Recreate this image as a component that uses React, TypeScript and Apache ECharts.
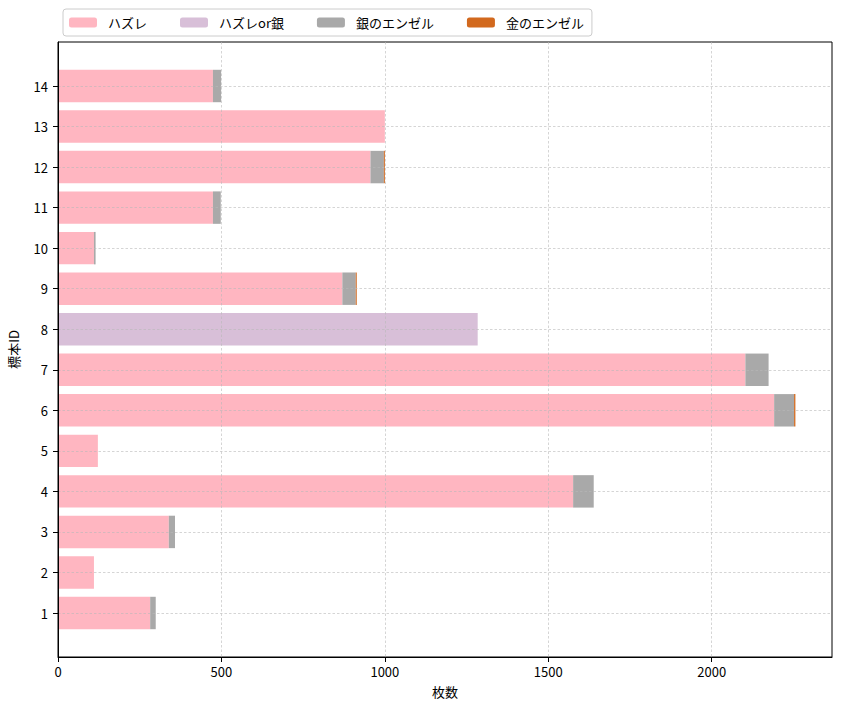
import React, { useEffect, useRef } from "react";
import * as echarts from "echarts";

const categories = ["1", "2", "3", "4", "5", "6", "7", "8", "9", "10", "11", "12", "13", "14"];
const hazure = [282, 110, 339, 1576, 122, 2191, 2103, 0, 870, 110, 474, 956, 1000, 474];
const hazureOrGin = [0, 0, 0, 0, 0, 0, 0, 1284, 0, 0, 0, 0, 0, 0];
const ginAngel = [17, 0, 19, 63, 0, 61, 71, 0, 41, 5, 24, 41, 0, 25];
const kinAngel = [0, 0, 0, 0, 0, 4, 0, 0, 3, 0, 0, 3, 0, 0];
const xTicks = [0, 500, 1000, 1500, 2000];
const xMax = 2368;

const seriesNames = ["ハズレ", "ハズレor銀", "銀のエンゼル", "金のエンゼル"];
const seriesColors = ["#FFB6C1", "#D8BFD8", "#A9A9A9", "#D2691E"];
const seriesData = [hazure, hazureOrGin, ginAngel, kinAngel];

const FONT = '"Noto Sans CJK JP", "Noto Sans", sans-serif';

export default function App() {
  const ref = useRef<HTMLDivElement>(null);
  useEffect(() => {
    if (!ref.current) return;
    const chart = echarts.init(ref.current, undefined, { renderer: "svg" });
    const gridLine = { color: "#b8b8b8", type: [2.5, 2] as any, width: 0.6 };
    chart.setOption({
      animation: false,
      textStyle: { fontFamily: FONT },
      legend: {
        left: 63,
        top: 9,
        padding: [7, 8, 7, 6],
        itemGap: 33,
        itemWidth: 28,
        itemHeight: 10,
        borderColor: "#cccccc",
        borderWidth: 1,
        borderRadius: 3,
        backgroundColor: "#ffffff",
        textStyle: { fontFamily: FONT, fontSize: 13, color: "#000", padding: [0, 0, 0, 6] },
        data: seriesNames.map((n) => ({ name: n, itemStyle: { borderWidth: 0 } })),
        selectedMode: false,
      },
      grid: [
        { left: 58, right: 9, top: 42, bottom: 54, outerBoundsMode: "none", containLabel: false, show: true, borderColor: "#000", borderWidth: 1, backgroundColor: "transparent" },
        { left: 58, right: 9, top: 86, bottom: 98, outerBoundsMode: "none", containLabel: false },
      ],
      xAxis: [
        {
          gridIndex: 0,
          type: "value",
          min: 0,
          max: xMax,
          interval: 500,
          z: 5,
          name: "枚数",
          nameLocation: "middle",
          nameGap: 28,
          nameTextStyle: { fontFamily: FONT, fontSize: 13, color: "#000" },
          axisLine: { show: true, lineStyle: { color: "#000", width: 1 } },
          axisTick: { show: true, length: 5, lineStyle: { color: "#000" }, customValues: xTicks },
          axisLabel: {
            margin: 8,
            fontSize: 13,
            color: "#000",
            fontFamily: FONT,
            customValues: xTicks,
            formatter: (v: number) => String(v),
          },
          splitLine: { show: true, lineStyle: gridLine },
        },
        {
          gridIndex: 1,
          type: "value",
          min: 0,
          max: xMax,
          show: false,
          splitLine: { show: false },
        },
      ],
      yAxis: [
        {
          gridIndex: 0,
          type: "value",
          min: 0,
          max: 1,
          z: 5,
          name: "標本ID",
          nameLocation: "middle",
          nameRotate: 90,
          nameGap: 38,
          nameTextStyle: { fontFamily: FONT, fontSize: 13, color: "#000" },
          axisLine: { show: true, lineStyle: { color: "#000", width: 1 } },
          axisTick: { show: false },
          axisLabel: { show: false },
          splitLine: { show: false },
        },
        {
          gridIndex: 1,
          type: "category",
          data: categories,
          boundaryGap: false,
          z: 4,
          axisLine: { show: false },
          axisTick: { show: true, length: 5, lineStyle: { color: "#000" } },
          axisLabel: { margin: 10, fontSize: 13, color: "#000", fontFamily: FONT },
          splitLine: { show: true, lineStyle: gridLine },
        },
      ],
      series: seriesData.map((d, i) => ({
        name: seriesNames[i],
        type: "bar",
        stack: "total",
        xAxisIndex: 1,
        yAxisIndex: 1,
        barWidth: "80%",
        clip: false,
        data: d,
        itemStyle: { color: seriesColors[i] },
        emphasis: { disabled: true },
      })),
    });
    return () => chart.dispose();
  }, []);
  return (
    <div
      ref={ref}
      style={{ position: "absolute", left: 0, top: 0, width: 841, height: 711, background: "#fff" }}
    />
  );
}
